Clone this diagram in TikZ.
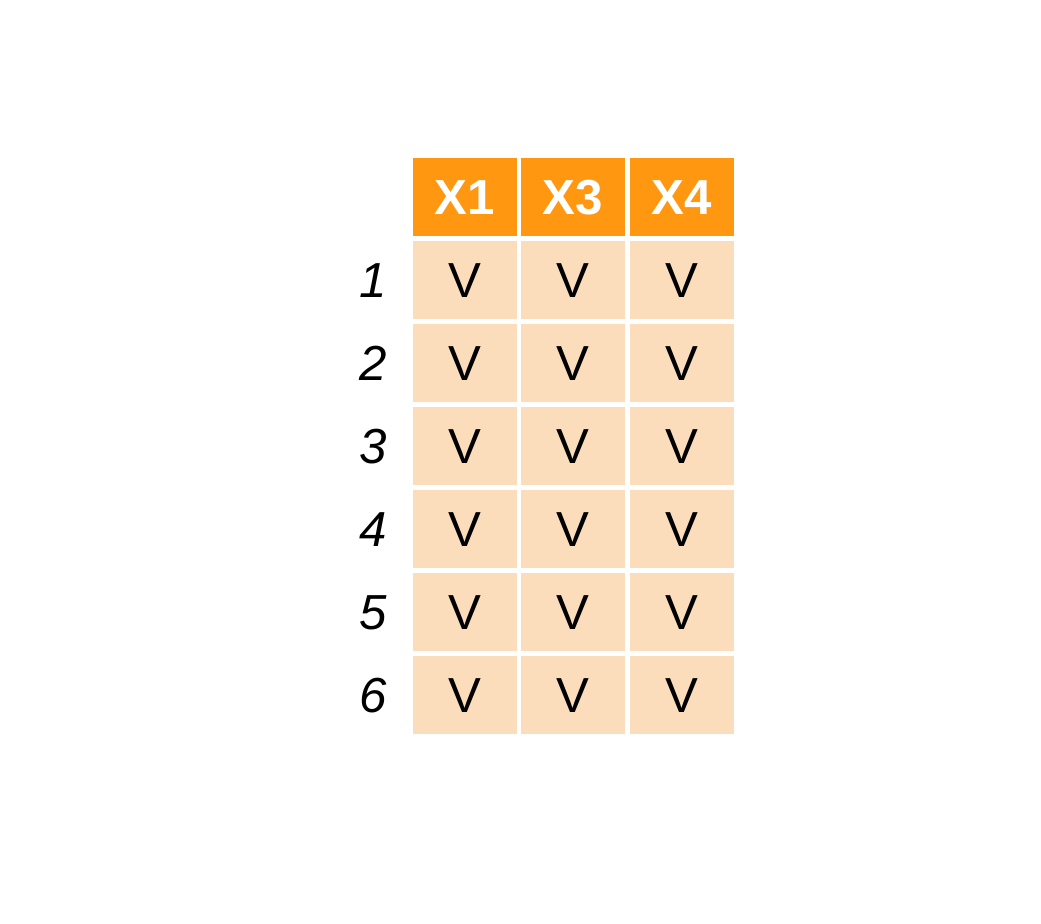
\documentclass[tikz,border=0pt]{standalone}
\usepackage{fontspec}
\setmainfont{Liberation Sans}
\definecolor{hdrorange}{HTML}{FF9810}
\definecolor{cellpeach}{HTML}{FBDDBC}
\tikzset{
	cellbox/.style={fill=cellpeach, minimum width=1.04cm, minimum height=0.78cm, inner sep=0pt, font=\fontsize{14}{16}\selectfont},
	hdrbox/.style={cellbox, fill=hdrorange, text=white, font=\fontsize{14}{16}\selectfont\bfseries},
	rowlab/.style={font=\fontsize{14}{16}\selectfont\itshape}
}
\begin{document}
\begin{tikzpicture}
\useasboundingbox (0, 0) rectangle (10.41, 9.24);

\foreach \name/\c in {X1/1,X3/2,X4/3} {
	\node[hdrbox] (h\c) at ({3.56+1.085*\c}, 7.265) {\name};
}

\foreach \r in {1,...,6} {
	\node[rowlab] (r\r) at (3.73, {7.265-0.83*\r}) {\r};
	\foreach \c in {1,2,3} {
		\node[cellbox] (v\r\c) at ({3.56+1.085*\c}, {7.265-0.83*\r}) {V};
	}
}

\end{tikzpicture}
\end{document}
